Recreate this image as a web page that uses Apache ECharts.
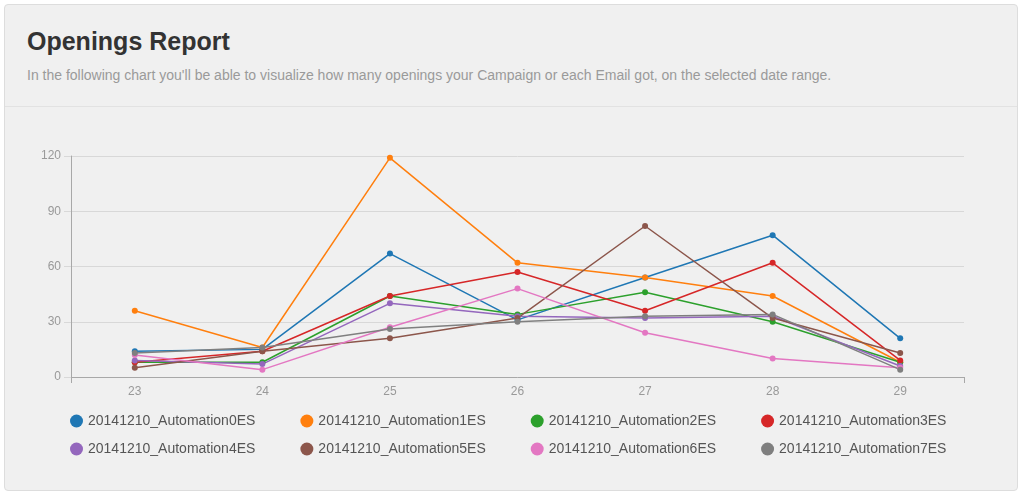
<!DOCTYPE html>
<html>
<head>
<meta charset="utf-8">
<script src="https://cdn.jsdelivr.net/npm/echarts@6/dist/echarts.min.js"></script>
<style>
  html, body { margin: 0; padding: 0; width: 1024px; height: 497px; background: #ffffff; overflow: hidden; font-family: "Liberation Sans", Arial, Helvetica, sans-serif; }
  #panel { position: absolute; left: 4px; top: 4px; width: 1014px; height: 487px; background: #f0f0f0; border: 1px solid #dddddd; border-radius: 4px; box-sizing: border-box; }
  #head { position: absolute; left: 0; top: 0; width: 100%; height: 101px; border-bottom: 1px solid #e2e2e2; }
  #title { position: absolute; left: 22px; top: 22px; margin: 0; font-size: 25px; font-weight: bold; color: #333333; letter-spacing: 0px; }
  #sub { position: absolute; left: 22px; top: 62px; margin: 0; font-size: 14px; color: #9a9a9a; }
  #chart { position: absolute; left: 0; top: 0; width: 1024px; height: 497px; }
</style>
</head>
<body>
<div id="panel">
  <div id="head">
    <h1 id="title">Openings Report</h1>
    <p id="sub">In the following chart you'll be able to visualize how many openings your Campaign or each Email got, on the selected date range.</p>
  </div>
</div>
<div id="chart"></div>
<script>
var categories = ['23', '24', '25', '26', '27', '28', '29'];
var seriesNames = [
  '20141210_Automation0ES', '20141210_Automation1ES', '20141210_Automation2ES', '20141210_Automation3ES',
  '20141210_Automation4ES', '20141210_Automation5ES', '20141210_Automation6ES', '20141210_Automation7ES'
];
var automation0 = [14, 15, 67, 31, 54, 77, 21];
var automation1 = [36, 16, 119, 62, 54, 44, 8];
var automation2 = [8, 8, 44, 34, 46, 30, 8];
var automation3 = [8, 14, 44, 57, 36, 62, 9];
var automation4 = [9, 7, 40, 33, 32, 33, 6];
var automation5 = [5, 14, 21, 32, 82, 32, 13];
var automation6 = [12, 4, 27, 48, 24, 10, 5];
var automation7 = [13, 16, 26, 30, 33, 34, 4];
var yTicks = [0, 30, 60, 90, 120];
var colors = ['#1f77b4', '#ff7f0e', '#2ca02c', '#d62728', '#9467bd', '#8c564b', '#e377c2', '#7f7f7f'];

var allValues = [automation0, automation1, automation2, automation3, automation4, automation5, automation6, automation7];

var series = seriesNames.map(function (name, i) {
  return {
    name: name,
    type: 'line',
    data: allValues[i],
    symbol: 'circle',
    symbolSize: 6,
    showSymbol: true,
    lineStyle: { width: 1.5, color: colors[i] },
    itemStyle: { color: colors[i] },
    animation: false
  };
});

var chart = echarts.init(document.getElementById('chart'), null, { renderer: 'canvas' });
var legendCommon = {
  left: 65,
  icon: 'circle',
  itemWidth: 13,
  itemHeight: 13,
  itemGap: 45,
  textStyle: { color: '#555555', fontSize: 14, fontFamily: 'Liberation Sans, Arial, sans-serif' }
};
chart.setOption({
  color: colors,
  animation: false,
  grid: { left: 71, right: 60, top: 156, bottom: 120, containLabel: false },
  legend: [
    Object.assign({ top: 409, data: seriesNames.slice(0, 4) }, legendCommon),
    Object.assign({ top: 437, data: seriesNames.slice(4, 8) }, legendCommon)
  ],
  xAxis: {
    type: 'category',
    data: categories,
    boundaryGap: true,
    axisLine: { show: true, lineStyle: { color: '#a8a8a8', width: 1 } },
    axisTick: { show: true, length: 6, interval: function (i) { return i === 0; }, lineStyle: { color: '#a8a8a8' } },
    axisLabel: { color: '#999999', fontSize: 12, margin: 9, fontFamily: 'Liberation Sans, Arial, sans-serif' },
    splitLine: { show: false }
  },
  yAxis: {
    type: 'value',
    min: yTicks[0],
    max: yTicks[yTicks.length - 1],
    interval: yTicks[1] - yTicks[0],
    axisLine: { show: true, lineStyle: { color: '#a8a8a8', width: 1 } },
    axisTick: { show: true, length: 7, lineStyle: { color: '#d8d8d8' } },
    axisLabel: { color: '#999999', fontSize: 12, margin: 10, fontFamily: 'Liberation Sans, Arial, sans-serif' },
    splitLine: { show: true, lineStyle: { color: '#d8d8d8', width: 1 } }
  },
  series: series
});
</script>
</body>
</html>
